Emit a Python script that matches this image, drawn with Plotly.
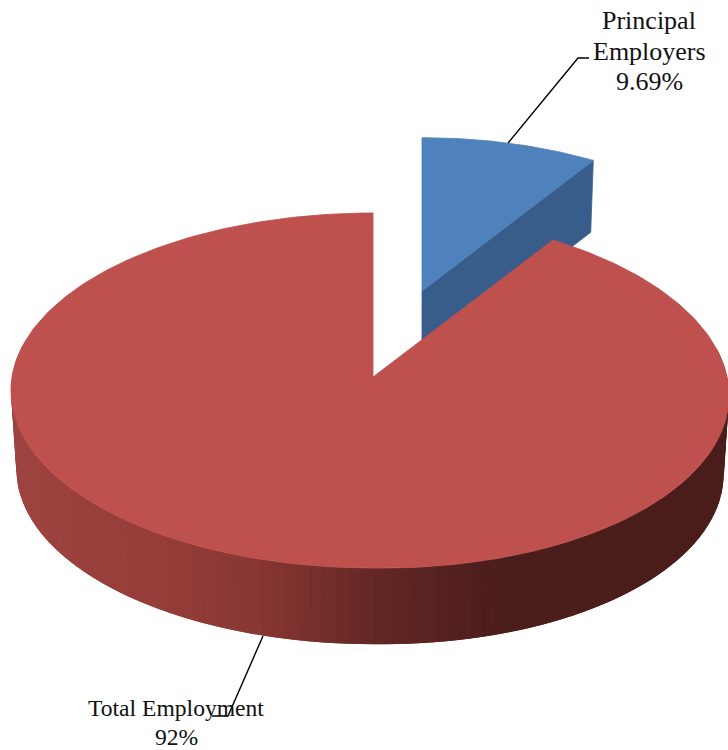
import numpy as np
import plotly.graph_objects as go

# ---- data ----
label_lines = [["Principal", "Employers"], ["Total Employment"]]
values = [9.69, 92]

# ---- view (perspective of the tilted pie, in page pixels) ----
W, H = 728, 750
PERSP = 0.0761
WARP = np.radians(1.8)
RED = dict(ax=373, ay=377, left=361, right=355, b=176.5, depth=79, shrink=0.985, tilt=5)
BLUE = dict(ax=422, ay=291, left=336, right=338, b=165, depth=70, shrink=0.985, tilt=0)
RED_TOP, BLUE_TOP, BLUE_WALL = "#BE504D", "#4F81BD", "#385D8A"
WALL_STOPS = [(-1.0, (158, 68, 65)), (-0.6, (150, 62, 58)), (-0.3, (135, 55, 50)),
              (0.0, (100, 40, 38)), (0.35, (76, 30, 28)), (1.0, (74, 29, 27))]


def project(theta, v, lower=False):
    th = theta - WARP * np.sin(2 * theta)
    X, Y = np.sin(th), np.cos(th)
    d = 1 + PERSP * Y
    a = np.where(X >= 0, v["right"], v["left"])
    sx = a * X / d
    sy = -v["b"] * Y / d + v["tilt"] * np.clip(X, 0, None)
    if lower:
        return v["ax"] + v["shrink"] * sx, v["ay"] + v["depth"] + v["shrink"] * sy
    return v["ax"] + sx, v["ay"] + sy


def wall_colour(s):
    xs = [p[0] for p in WALL_STOPS]
    rgb = [np.interp(s, xs, [p[1][i] for p in WALL_STOPS]) for i in range(3)]
    return "rgb(%d,%d,%d)" % tuple(rgb)


def poly(xs, ys, colour, width=0.8):
    return go.Scatter(x=list(xs), y=list(ys), mode="lines", fill="toself", fillcolor=colour,
                      line=dict(color=colour, width=width), hoverinfo="skip", showlegend=False)


share = np.array(values, dtype=float) / sum(values)
split = 2 * np.pi * share[0]

fig = go.Figure()

# exploded small slice
th_b = np.linspace(0, split, 60)
bx, by = project(th_b, BLUE)
ex, ey = project(np.array([split]), BLUE)
lx, ly = project(np.array([split]), BLUE, lower=True)
ax0, ay0 = BLUE["ax"], BLUE["ay"]
fig.add_trace(poly([ax0, ex[0], lx[0], ax0, ax0], [ay0, ey[0], ly[0], ay0 + BLUE["depth"], ay0], BLUE_WALL))
fig.add_trace(poly(np.r_[ax0, bx, ax0], np.r_[ay0, by, ay0], BLUE_TOP))

# wall of the large slice: shaded strips, each overlapping the next to hide seams
edges = np.radians(np.arange(282, 78, -2.0))
for i in range(len(edges) - 1):
    seg = np.linspace(edges[i], edges[min(i + 2, len(edges) - 1)], 5)
    tx, ty = project(seg, RED)
    ux, uy = project(seg, RED, lower=True)
    fig.add_trace(poly(np.r_[tx, ux[::-1], tx[0]], np.r_[ty, uy[::-1], ty[0]],
                       wall_colour(np.sin((edges[i] + edges[i + 1]) / 2)), width=0))

# top of the large slice
th_r = np.linspace(split, 2 * np.pi, 300)
rx, ry = project(th_r, RED)
fig.add_trace(poly(np.r_[RED["ax"], rx, RED["ax"]], np.r_[RED["ay"], ry, RED["ay"]], RED_TOP))

# leader lines
for pts in ([(508, 143), (578, 58), (589, 58)], [(263, 636), (228, 716), (212, 716)]):
    fig.add_trace(go.Scatter(x=[p[0] for p in pts], y=[p[1] for p in pts], mode="lines",
                             line=dict(color="black", width=1.4), hoverinfo="skip", showlegend=False))

# labels
rows = [(649, 20, label_lines[0][0], 26), (649, 51, label_lines[0][1], 26), (649, 81, f"{values[0]}%", 26),
        (176, 708, label_lines[1][0], 23.6), (176, 737, f"{values[1]}%", 23.6)]
for x, y, t, s in rows:
    fig.add_annotation(x=x, y=y, text=t, showarrow=False,
                       font=dict(family="Liberation Serif", size=s, color="#111111"),
                       xanchor="center", yanchor="middle")

fig.update_layout(width=W, height=H, margin=dict(l=0, r=0, t=0, b=0), showlegend=False,
                  paper_bgcolor="white", plot_bgcolor="white",
                  xaxis=dict(range=[0, W], visible=False, fixedrange=True),
                  yaxis=dict(range=[H, 0], visible=False, fixedrange=True))
fig.write_html("out.html", config={"displayModeBar": False},
               post_script="document.body.style.margin='0';document.documentElement.style.overflow='hidden';")
